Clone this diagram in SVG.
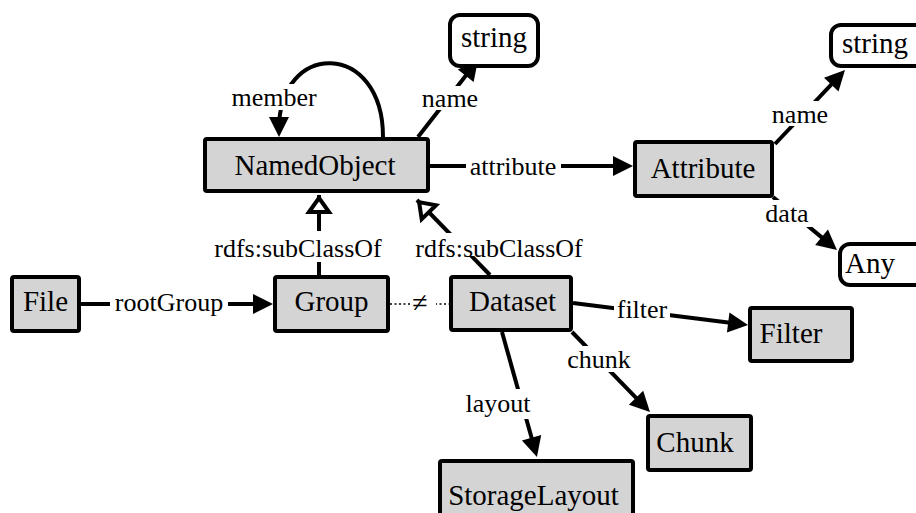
<svg xmlns="http://www.w3.org/2000/svg" width="916" height="513" viewBox="0 0 916 513">
<style>
.box{fill:#d4d4d4;stroke:#000;stroke-width:4}
.lit{fill:#fff;stroke:#000;stroke-width:4}
.nt{font-family:"Liberation Serif","Times New Roman",serif;font-size:29px;fill:#000;text-anchor:middle}
.lt{font-family:"Liberation Serif","Times New Roman",serif;font-size:26px;fill:#000;text-anchor:middle}
.e{fill:none;stroke:#000;stroke-width:4}
.bg{fill:#fff;stroke:none}
</style>
<defs>
<marker id="arr" markerUnits="userSpaceOnUse" markerWidth="20" markerHeight="20" refX="12" refY="10" orient="auto" overflow="visible"><path d="M0,0 L20,10 L0,20 z" fill="#000"/></marker>
<marker id="open" markerUnits="userSpaceOnUse" markerWidth="14" markerHeight="20" refX="17" refY="10" orient="auto" overflow="visible"><path d="M0,0 L14,10 L0,20 z" fill="#fff" stroke="#000" stroke-width="4"/></marker>
</defs>
<g id="connectors">
<path class="e" d="M383,137 C383,40 279,40 279,129" marker-end="url(#arr)"/>
<rect class="bg" x="229" y="84" width="90" height="26"/>
<text class="lt" x="274" y="106">member</text>

<path class="e" d="M418,137 L473.1,66.3" marker-end="url(#arr)"/>
<rect class="bg" x="423" y="86" width="55" height="24"/>
<text class="lt" x="450" y="107">name</text>

<path class="e" d="M430,166 L625,166" marker-end="url(#arr)"/>
<rect class="bg" x="466" y="150" width="95" height="30"/>
<text class="lt" x="513" y="175">attribute</text>

<path class="e" d="M775,144 L839.5,75.8" marker-end="url(#arr)"/>
<rect class="bg" x="771" y="101" width="60" height="25"/>
<text class="lt" x="800" y="123">name</text>

<path class="e" d="M773,197 L830.8,244.9" marker-end="url(#arr)"/>
<rect class="bg" x="762" y="200" width="50" height="27"/>
<text class="lt" x="787" y="222">data</text>

<path class="e" d="M319,275 L319,195" marker-end="url(#open)"/>
<rect class="bg" x="211" y="231" width="175" height="31"/>
<text class="lt" x="298" y="257">rdfs:subClassOf</text>

<path class="e" d="M490,275 L417,200" marker-end="url(#open)"/>
<rect class="bg" x="413" y="233" width="173" height="23"/>
<text class="lt" x="499" y="257">rdfs:subClassOf</text>

<path class="e" d="M81,304 L265,304" marker-end="url(#arr)"/>
<rect class="bg" x="110" y="288" width="118" height="30"/>
<text class="lt" x="169" y="311">rootGroup</text>

<path d="M390,304 L449,304" fill="none" stroke="#000" stroke-width="1.5" stroke-dasharray="2,2.5"/>
<rect class="bg" x="412" y="292" width="24" height="24"/>
<text class="lt" x="420" y="312" style="font-size:28px">≠</text>

<path class="e" d="M573,303 L740.1,324" marker-end="url(#arr)"/>
<rect class="bg" x="614" y="296" width="56" height="25"/>
<text class="lt" x="642" y="318">filter</text>

<path class="e" d="M572,332 L644.4,406.3" marker-end="url(#arr)"/>
<rect class="bg" x="565" y="346" width="68" height="26"/>
<text class="lt" x="599" y="368">chunk</text>

<path class="e" d="M502,332 L534.8,449.3" marker-end="url(#arr)"/>
<rect class="bg" x="464" y="389" width="70" height="30"/>
<text class="lt" x="498" y="412">layout</text>
</g>
<g id="NamedObject"><rect class="box" x="205" y="139" width="223" height="52" rx="2"/><text class="nt" x="315" y="175">NamedObject</text></g>
<g id="string1"><rect class="lit" x="450" y="15" width="88" height="51" rx="10"/><text class="nt" x="494" y="47">string</text></g>
<g id="Attribute"><rect class="box" x="635" y="142" width="137" height="54" rx="2"/><text class="nt" x="703" y="178">Attribute</text></g>
<g id="string2"><rect class="lit" x="831" y="25" width="100" height="41" rx="10"/><text class="nt" x="875" y="53">string</text></g>
<g id="Any"><rect class="lit" x="840" y="244" width="100" height="41" rx="10"/><text class="nt" x="870" y="273">Any</text></g>
<g id="File"><rect class="box" x="12" y="277" width="67" height="54" rx="2"/><text class="nt" x="45.5" y="311">File</text></g>
<g id="Group"><rect class="box" x="275" y="277" width="113" height="54" rx="2"/><text class="nt" x="331.5" y="311">Group</text></g>
<g id="Dataset"><rect class="box" x="451" y="277" width="120" height="53" rx="2"/><text class="nt" x="512.5" y="311">Dataset</text></g>
<g id="Filter"><rect class="box" x="750" y="308" width="102" height="53" rx="2"/><text class="nt" x="791" y="343">Filter</text></g>
<g id="Chunk"><rect class="box" x="648" y="416" width="103" height="54" rx="2"/><text class="nt" x="695" y="452">Chunk</text></g>
<g id="StorageLayout"><rect class="box" x="440" y="461" width="193" height="60" rx="2"/><text class="nt" x="533.5" y="505">StorageLayout</text></g>
</svg>
